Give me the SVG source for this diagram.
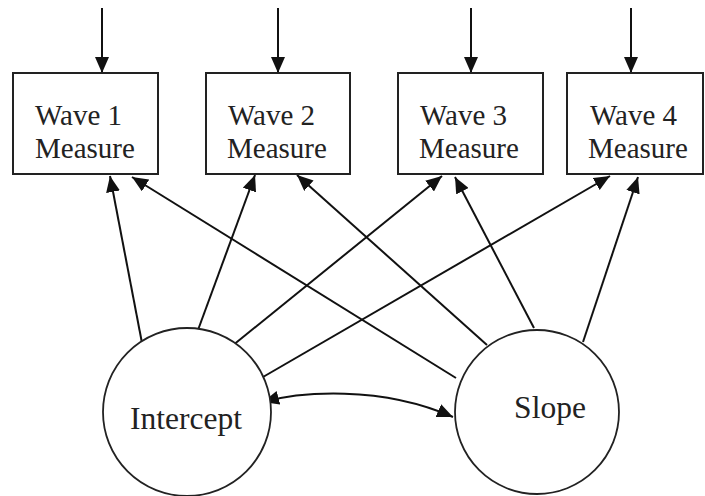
<svg xmlns="http://www.w3.org/2000/svg" width="705" height="496" viewBox="0 0 705 496">
<style>
.box{fill:#fff;stroke:#222;stroke-width:2}
.lat{fill:#fff;stroke:#222;stroke-width:1.8}
.lbl{font-family:"Liberation Serif","Times New Roman",serif;font-size:29px;fill:#222}
.big{font-size:31.5px;text-anchor:middle}
.c{fill:none;stroke:#111;stroke-width:2;marker-end:url(#ah)}
</style>
<defs>
<marker id="ah" markerUnits="userSpaceOnUse" markerWidth="17" markerHeight="14" refX="16" refY="7" orient="auto-start-reverse">
<path d="M0,0 L16,7 L0,14 z" fill="#111"/>
</marker>
</defs>
<rect width="705" height="496" fill="#fff"/>
<g id="connectors">
<line class="c" x1="102" y1="8" x2="102" y2="73"/>
<line class="c" x1="278" y1="8" x2="278" y2="73"/>
<line class="c" x1="471" y1="8" x2="471" y2="73"/>
<line class="c" x1="631" y1="8" x2="631" y2="73"/>
<line class="c" x1="142" y1="343" x2="110" y2="176"/>
<line class="c" x1="198" y1="330" x2="255" y2="175"/>
<line class="c" x1="232" y1="346" x2="442" y2="176"/>
<line class="c" x1="263" y1="377" x2="610" y2="176"/>
<line class="c" x1="456" y1="378" x2="132" y2="177"/>
<line class="c" x1="487" y1="345" x2="297" y2="175"/>
<line class="c" x1="534" y1="328" x2="455" y2="177"/>
<line class="c" x1="583" y1="342" x2="638" y2="177"/>
<path class="c" d="M263,402 C300,392 380,385 453,417" style="marker-start:url(#ah)"/>
</g>
<g id="wave1"><rect class="box" x="13" y="73" width="145" height="101"/><text class="lbl" x="35" y="125">Wave 1</text><text class="lbl" x="35" y="158">Measure</text></g>
<g id="wave2"><rect class="box" x="206" y="73" width="144" height="101"/><text class="lbl" x="228" y="125">Wave 2</text><text class="lbl" x="227" y="158">Measure</text></g>
<g id="wave3"><rect class="box" x="398" y="73" width="145" height="101"/><text class="lbl" x="420" y="125">Wave 3</text><text class="lbl" x="419" y="158">Measure</text></g>
<g id="wave4"><rect class="box" x="567" y="73" width="136" height="101"/><text class="lbl" x="590" y="125">Wave 4</text><text class="lbl" x="588" y="158">Measure</text></g>
<g id="intercept"><circle class="lat" cx="187" cy="412" r="84"/><text class="lbl big" x="186" y="429">Intercept</text></g>
<g id="slope"><circle class="lat" cx="537" cy="412" r="82"/><text class="lbl big" x="550" y="418">Slope</text></g>
</svg>
